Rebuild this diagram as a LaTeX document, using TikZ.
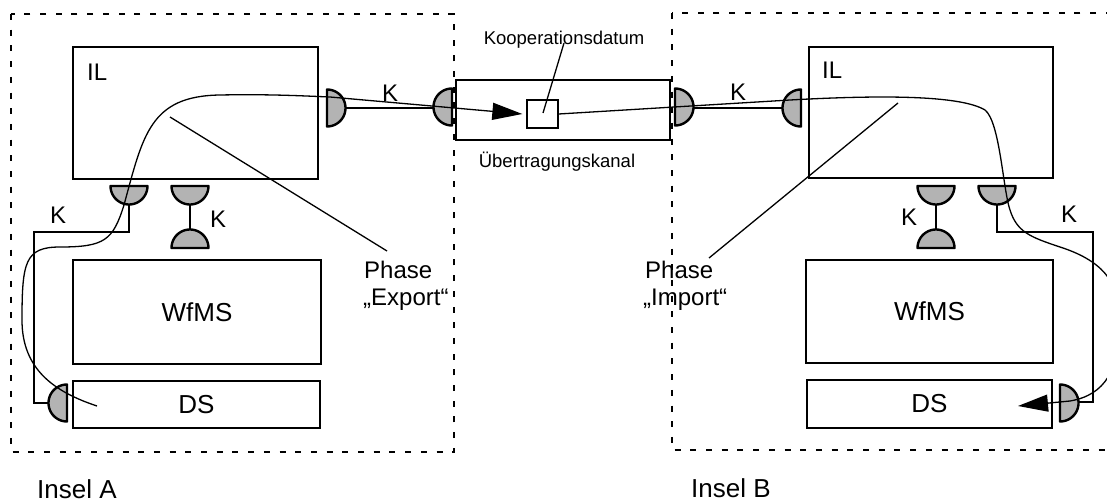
\documentclass[tikz,border=0pt]{standalone}
\usepackage{fontspec}
\setmainfont{Liberation Sans}
\usetikzlibrary{arrows.meta}
\definecolor{portgray}{HTML}{B3B3B3}
% half disc of a coupling port: centre of the flat side, angle range of the dome
\newcommand\portdisc[4]{\filldraw[port] plot[domain=#3:#4,samples=37] ({#1+18.5*cos(\x)},{#2+18.5*sin(\x)}) -- cycle;}
\begin{document}
\begin{tikzpicture}[x=1pt,y=-1pt,
  box/.style={draw,line width=1.6pt,inner sep=0pt,font=\fontsize{26}{31}\selectfont},
  island/.style={draw,dash pattern=on 6pt off 9.7pt,line width=1.5pt},
  wire/.style={line width=1.5pt},
  flow/.style={line width=1.3pt},
  port/.style={fill=portgray,draw=black,line width=2.4pt,line join=round},
  big/.style={inner sep=0pt,font=\fontsize{26}{31}\selectfont},
  mid/.style={inner sep=0pt,font=\fontsize{24}{28}\selectfont},
  small/.style={inner sep=0pt,font=\fontsize{18.5}{22}\selectfont},
  tip/.style={-{Triangle[length=30pt,width=17pt]}}]
\useasboundingbox (0,0) rectangle (1107,503);
\clip (0,0) rectangle (1107,503);

% islands
\draw[island] (11,14) rectangle (454,452);
\draw[island] (672,13) rectangle (1130,450);

% island A
\node[box,minimum width=245pt,minimum height=132pt] (ILA) at (195.5,113) {};
\node[box,minimum width=248pt,minimum height=104pt] (WfA) at (197,312) {WfMS};
\node[box,minimum width=247pt,minimum height=47pt] (DSA) at (196.5,404.5) {DS};
\node[mid,anchor=base west] (ILAl) at (87,80) {IL};

% island B
\node[box,minimum width=244pt,minimum height=131pt] (ILB) at (931,112.5) {};
\node[box,minimum width=247pt,minimum height=103pt] (WfB) at (929.5,311.5) {WfMS};
\node[box,minimum width=245pt,minimum height=48pt] (DSB) at (929.5,404) {DS};
\node[mid,anchor=base west] (ILBl) at (822,78) {IL};

% transfer channel
\node[box,minimum width=214pt,minimum height=60pt] (Chan) at (563,110) {};
\node[box,line width=1.3pt,minimum width=31pt,minimum height=28pt] (Dat) at (542.5,114) {};
\node[small,anchor=base] (DatL) at (564,45) {Kooperationsdatum};
\node[small,anchor=base] (ChanL) at (557,167) {Übertragungskanal};
\coordinate (DatP) at (543,113);
\draw[flow] ([yshift=6pt]DatL.south) -- (DatP);

% port tips
\coordinate (pA1) at (345.5,108);
\coordinate (pC1) at (433.5,108);
\coordinate (pC2) at (693.5,108);
\coordinate (pB1) at (782.5,108);
\coordinate (pA2) at (129,204.5);
\coordinate (pA3) at (190,204.5);
\coordinate (pA4) at (190,229.5);
\coordinate (pA5) at (48.5,403);
\coordinate (pB2) at (936,204.5);
\coordinate (pB3) at (936,229.5);
\coordinate (pB4) at (997,204.5);
\coordinate (pB5) at (1078.5,402);

% coupling wires
\draw[wire] (pA1) -- (pC1);
\draw[wire] (pC2) -- (pB1);
\draw[wire] (pA3) -- (pA4);
\draw[wire] (pB2) -- (pB3);
\draw[wire] (pA2) -- (129,232) -- (34,232) -- (34,403) -- (pA5);
\draw[wire] (pB4) -- (997,232) -- (1093,232) -- (1093,402) -- (pB5);

% ports
\portdisc{327}{108}{-90}{90}
\portdisc{452}{107}{90}{270}
\portdisc{675}{107}{-90}{90}
\portdisc{801}{108}{90}{270}
\portdisc{129}{186}{0}{180}
\portdisc{190}{186}{0}{180}
\portdisc{190}{248}{180}{360}
\portdisc{67}{403}{90}{270}
\portdisc{936}{186}{0}{180}
\portdisc{936}{248}{180}{360}
\portdisc{997}{186}{0}{180}
\portdisc{1060}{403}{-90}{90}

% K labels
\node[mid,anchor=base west] (KA1) at (382,101) {K};
\node[mid,anchor=base west] (KB1) at (730,100) {K};
\node[mid,anchor=base west] (KA2) at (50,223) {K};
\node[mid,anchor=base west] (KA3) at (210,227) {K};
\node[mid,anchor=base west] (KB2) at (901,225) {K};
\node[mid,anchor=base west] (KB3) at (1061,222) {K};

% export flow
\coordinate (expS) at (97,406);
\draw[flow,tip] (expS) .. controls (55,392) and (22,370) .. (22,320)
  .. controls (22,262) and (25,247) .. (60,247)
  .. controls (105,247) and (113,240) .. (124,205)
  .. controls (143,135) and (150,96) .. (220,95)
  .. controls (270,94) and (305,96) .. (330,97)
  -- ([xshift=-4pt]Dat.west);

% import flow
\coordinate (impE) at (1018,406);
\draw[flow,tip] (Dat.east) -- (790,100)
  .. controls (880,95) and (960,95) .. (985,110)
  .. controls (1000,122) and (1003,190) .. (1010,210)
  .. controls (1017,232) and (1030,237) .. (1060,247)
  .. controls (1100,260) and (1120,280) .. (1120,320)
  .. controls (1120,370) and (1105,395) .. (1070,401)
  -- (impE);

% phases
\node[mid,anchor=base west] (PhE1) at (364,278) {Phase};
\node[mid,anchor=base west] (PhE2) at (363,305) {„Export“};
\coordinate (PhEp) at (170,117);
\draw[flow] (PhEp) -- (387,251);
\node[mid,anchor=base west] (PhI1) at (645,278) {Phase};
\node[mid,anchor=base west] (PhI2) at (643,305) {„Import“};
\coordinate (PhIp) at (898,103);
\draw[flow] (PhIp) -- (709,258);

% island names
\node[big,anchor=base west] (InA) at (37,498) {Insel A};
\node[big,anchor=base west] (InB) at (691,497) {Insel B};
\end{tikzpicture}
\end{document}
